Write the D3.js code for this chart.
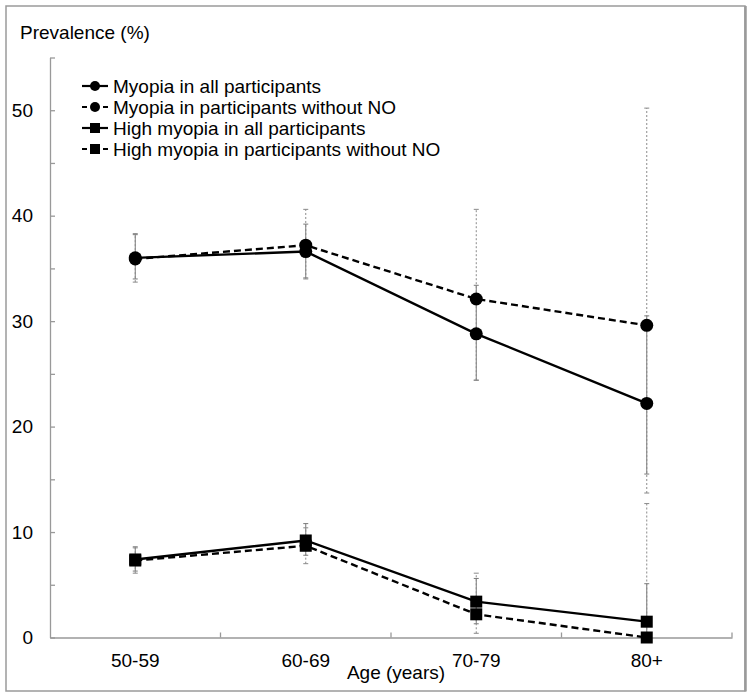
<!DOCTYPE html>
<html><head><meta charset="utf-8">
<script src="https://cdn.jsdelivr.net/npm/d3@7"></script>
<style>body{margin:0;background:#fff}svg{display:block}text{font-family:"Liberation Sans",Arial,sans-serif;fill:#000}</style>
</head><body><svg id="c" width="753" height="699"></svg>
<script>
const categories = ["50-59","60-69","70-79","80+"];
const yTicks = [0,5,10,15,20,25,30,35,40,45,50,55];

const myopiaAll     = [36.0, 36.6, 28.8, 22.2];
const myopiaAllLo   = [34.0, 34.1, 24.4, 15.5];
const myopiaAllHi   = [38.2, 39.2, 33.4, 30.5];

const myopiaNoNO    = [35.9, 37.2, 32.1, 29.6];
const myopiaNoNOLo  = [33.7, 34.0, 24.4, 13.7];
const myopiaNoNOHi  = [38.3, 40.6, 40.6, 50.2];

const highAll       = [7.4, 9.2, 3.4, 1.5];
const highAllLo     = [6.3, 7.8, 1.3, 0.2];
const highAllHi     = [8.6, 10.8, 5.6, 5.1];

const highNoNO      = [7.3, 8.7, 2.2, 0.0];
const highNoNOLo    = [6.1, 7.0, 0.4, 0.0];
const highNoNOHi    = [8.5, 10.4, 6.1, 12.7];

const seriesNames = ["Myopia in all participants","Myopia in participants without NO","High myopia in all participants","High myopia in participants without NO"];

const series = [
  {name:seriesNames[0], v:myopiaAll, lo:myopiaAllLo, hi:myopiaAllHi, dashed:false, shape:"circle"},
  {name:seriesNames[1], v:myopiaNoNO, lo:myopiaNoNOLo, hi:myopiaNoNOHi, dashed:true, shape:"circle"},
  {name:seriesNames[2], v:highAll, lo:highAllLo, hi:highAllHi, dashed:false, shape:"square"},
  {name:seriesNames[3], v:highNoNO, lo:highNoNOLo, hi:highNoNOHi, dashed:true, shape:"square"}
];

const svg = d3.select("#c");
const L = 50, R = 732, T = 57.5, B = 637.5;

svg.append("rect").attr("x",6).attr("y",6).attr("width",739).attr("height",685)
  .attr("fill","none").attr("stroke","#9a9a9a").attr("stroke-width",1.5);
svg.append("line").attr("x1",745.5).attr("x2",745.5).attr("y1",6).attr("y2",691.5)
  .attr("stroke","#9a9a9a").attr("stroke-width",2.5);

const x = d3.scaleBand().domain(categories).range([L,R]);
const y = d3.scaleLinear().domain([0,55]).range([B,T]);
const cx = c => x(c) + x.bandwidth()/2;

// y axis
const ya = svg.append("g").attr("transform",`translate(${L},0)`)
  .call(d3.axisLeft(y).tickValues(yTicks).tickSizeInner(-5).tickSizeOuter(0).tickPadding(17)
    .tickFormat(d => d % 10 === 0 ? d : ""));
ya.selectAll("path,line").attr("stroke","#999").attr("stroke-width",1.3);
ya.selectAll("text").attr("font-size",19).attr("font-family","Liberation Sans, Arial, sans-serif").attr("fill","#000");

// x axis
const xa = svg.append("g").attr("transform",`translate(0,${B})`)
  .call(d3.axisBottom(x).tickSize(0).tickPadding(16.5));
xa.select("path").attr("stroke","#999").attr("stroke-width",1.3);
xa.selectAll("text").attr("font-size",19).attr("font-family","Liberation Sans, Arial, sans-serif").attr("fill","#000");
const bounds = categories.slice(1).map(c => x(c)).concat([R]);
svg.append("g").selectAll("line").data(bounds).join("line")
  .attr("x1",d=>d).attr("x2",d=>d).attr("y1",B).attr("y2",B-5)
  .attr("stroke","#999").attr("stroke-width",1.3);

svg.append("text").attr("x",20).attr("y",39).attr("font-size",19).text("Prevalence (%)");
svg.append("text").attr("x",396).attr("y",679).attr("font-size",19).attr("text-anchor","middle").text("Age (years)");

// error bars
const eb = svg.append("g");
series.forEach(s => {
  categories.forEach((c,i) => {
    const g = eb.append("g").attr("stroke", s.dashed ? "#8a8a8a" : "#7a7a7a").attr("stroke-width",1);
    const da = s.dashed ? "2,2" : null;
    g.append("line").attr("x1",cx(c)).attr("x2",cx(c)).attr("y1",y(s.lo[i])).attr("y2",y(s.hi[i])).attr("stroke-dasharray",da);
    [s.lo[i], s.hi[i]].forEach(vv => {
      g.append("line").attr("x1",cx(c)-2.5).attr("x2",cx(c)+2.5).attr("y1",y(vv)).attr("y2",y(vv));
    });
  });
});

// lines
const line = d3.line().x((d,i)=>cx(categories[i])).y(d=>y(d));
series.forEach(s => {
  svg.append("path").datum(s.v).attr("d",line).attr("fill","none").attr("stroke","#000")
    .attr("stroke-width",2.4).attr("stroke-dasharray", s.dashed ? "7,4" : null);
});

// markers
series.forEach(s => {
  const g = svg.append("g");
  s.v.forEach((v,i) => {
    if (s.shape === "circle") {
      g.append("circle").attr("cx",cx(categories[i])).attr("cy",y(v)).attr("r",6.5).attr("fill","#000");
    } else {
      g.append("rect").attr("x",cx(categories[i])-6).attr("y",y(v)-6).attr("width",12).attr("height",12).attr("fill","#000");
    }
  });
});

// legend
const lg = svg.append("g");
series.forEach((s,i) => {
  const yy = 86 + i*21;
  lg.append("line").attr("x1",82).attr("x2",108).attr("y1",yy).attr("y2",yy)
    .attr("stroke","#000").attr("stroke-width",2.2).attr("stroke-dasharray", s.dashed ? "5,16" : null);
  if (s.shape === "circle") lg.append("circle").attr("cx",95).attr("cy",yy).attr("r",5).attr("fill","#000");
  else lg.append("rect").attr("x",90).attr("y",yy-5).attr("width",10).attr("height",10).attr("fill","#000");
  lg.append("text").attr("x",113).attr("y",yy+7).attr("font-size",19).text(s.name);
});
</script></body></html>
